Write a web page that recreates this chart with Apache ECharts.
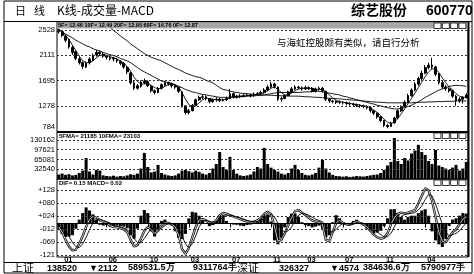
<!DOCTYPE html>
<html><head><meta charset="utf-8">
<script src="https://cdn.jsdelivr.net/npm/echarts@6/dist/echarts.min.js"></script>
<style>html,body{margin:0;padding:0;background:#fff}#c{width:474px;height:274px}</style>
</head><body><div id="c"></div>
<script>
// ---- K-line data (open, close, low, high) ----
const kOpen = [25.3,25.0,24.3,23.7,22.4,21.7,20.5,19.9,19.2,19.9, 20.4,21.2,21.6,21.3,21.0,20.7,20.6,20.4,20.1,19.8, 19.1,18.2,16.6,15.7,16.0,16.6,16.8,16.0,15.3,15.0, 15.7,16.2,16.6,16.4,16.1,15.9,15.1,12.8,11.7,12.0, 12.9,13.8,14.2,14.3,14.0,13.5,13.8,13.9,13.7,13.8, 14.0,14.8,14.2,14.3,14.4,14.5,14.6,14.5,14.7,14.8, 15.0,15.4,15.9,16.4,15.9,13.9,14.0,14.5,15.1,15.6, 15.9,15.8,15.6,15.8,15.7,15.2,15.6,15.7,15.2,13.9, 13.6,13.5,13.4,13.4,13.3,13.2,13.1,13.0,12.9,12.8, 12.7,12.5,12.0,11.6,11.0,10.4,9.6,9.4,10.0,10.8, 12.0,12.7,13.4,14.5,15.4,16.4,17.3,18.2,19.1,19.5, 19.2,18.0,16.6,15.9,15.6,15.3,14.4,13.7,13.9,14.2];
const kClose = [25.0,24.4,23.6,22.5,21.6,20.6,19.9,19.3,19.8,20.5, 21.1,21.6,21.4,21.0,20.8,20.6,20.5,20.2,19.8,19.2, 18.4,16.6,15.7,16.1,16.7,16.9,16.1,15.3,15.0,15.7, 16.3,16.6,16.4,16.1,15.9,15.2,12.8,11.7,12.0,12.9, 13.8,14.2,14.3,14.0,13.5,13.8,13.9,13.7,13.8,14.0, 14.8,14.2,14.3,14.4,14.5,14.6,14.5,14.7,14.8,15.0, 15.4,15.9,16.4,16.0,13.9,14.0,14.5,15.1,15.6,15.9, 15.8,15.6,15.8,15.7,15.2,15.6,15.7,15.3,13.9,13.6, 13.5,13.4,13.4,13.3,13.2,13.1,13.0,12.9,12.8,12.7, 12.5,12.0,11.6,11.0,10.4,9.6,9.4,10.0,10.8,12.0, 12.7,13.4,14.5,15.4,16.4,17.3,18.2,19.1,19.5,19.2, 18.0,16.6,15.9,15.6,15.3,14.4,13.7,13.9,14.2,14.6];
const kLow = [24.7,24.1,23.3,22.2,21.2,20.3,19.6,18.9,19.0,19.6, 20.2,20.9,21.0,20.7,20.4,20.3,20.1,19.9,19.5,18.9, 18.0,16.3,15.4,15.5,15.8,16.4,15.9,15.0,14.7,14.9, 15.5,16.0,16.1,15.8,15.6,14.9,12.5,11.4,11.4,11.9, 12.8,13.6,13.9,13.7,13.2,13.3,13.5,13.4,13.5,13.6, 13.9,14.0,14.0,14.1,14.2,14.3,14.2,14.3,14.5,14.6, 14.8,15.2,15.7,15.7,13.6,13.5,13.9,14.4,15.0,15.4, 15.5,15.3,15.4,15.4,15.0,15.0,15.3,15.0,13.6,13.3, 13.2,13.1,13.1,13.0,12.9,12.8,12.7,12.6,12.5,12.4, 12.2,11.7,11.3,10.7,10.1,9.3,9.1,9.3,9.9,10.7, 11.8,12.5,13.3,14.3,15.2,16.1,17.0,18.0,18.8,18.9, 17.7,16.3,15.6,15.3,15.0,14.1,12.8,13.3,13.2,14.0];
const kHigh = [25.5,25.1,24.5,23.9,22.7,21.9,20.9,20.1,20.1,20.8, 21.4,22.0,21.9,21.6,21.2,21.0,20.9,20.7,20.3,20.0, 19.3,18.4,16.9,16.4,17.0,17.3,17.0,16.2,15.5,15.9, 16.5,16.9,16.8,16.6,16.3,16.0,15.2,12.9,12.3,13.1, 14.0,14.5,14.6,14.5,14.1,14.0,14.2,14.1,14.0,14.3, 15.6,15.0,14.6,14.7,14.8,14.9,14.8,15.0,15.1,15.3, 15.7,16.2,16.8,16.6,16.0,14.3,14.7,15.3,15.9,16.2, 16.1,16.0,16.1,16.0,15.9,15.8,16.0,15.9,15.3,14.1, 13.8,13.7,13.7,13.6,13.5,13.4,13.3,13.2,13.1,13.0, 12.9,12.6,12.1,11.7,11.1,10.5,9.8,10.2,11.0,12.2, 12.9,13.7,14.8,15.7,16.7,17.6,18.6,19.5,19.9,20.7, 19.4,18.2,16.9,16.2,15.8,15.5,14.6,14.2,14.4,14.9];
// ---- moving averages ----
const maShort = [25.4,25.0,24.4,23.7,22.8,21.9,21.0,20.2,19.9,19.9, 20.2,20.7,21.1,21.2,21.1,20.9,20.7,20.5,20.2,19.8, 19.3,18.5,17.5,16.8,16.4,16.4,16.5,16.2,15.8,15.6, 15.7,16.0,16.3,16.4,16.2,15.9,15.0,13.9,13.0,12.6, 12.8,13.3,13.8,14.1,14.0,13.9,13.8,13.8,13.8,13.9, 14.1,14.3,14.4,14.4,14.4,14.5,14.5,14.6,14.7,14.8, 15.0,15.3,15.7,15.9,15.5,15.0,14.6,14.6,14.9,15.3, 15.6,15.7,15.7,15.7,15.6,15.5,15.5,15.5,15.1,14.6, 14.1,13.7,13.5,13.4,13.3,13.2,13.1,13.0,12.9,12.8, 12.7,12.5,12.1,11.7,11.2,10.6,10.1,9.9,10.1,10.7, 11.5,12.3,13.2,14.0,14.9,15.8,16.7,17.6,18.4,18.9, 18.9,18.3,17.4,16.6,15.9,15.4,14.8,14.4,14.2,14.2];
const maLong = [32.1,31.7,31.2,30.8,30.4,30.0,29.5,29.1,28.7,28.2, 27.8,27.4,27.0,26.5,26.1,25.7,25.2,24.8,24.3,23.9, 23.5,23.0,22.6,22.2,21.8,21.4,21.1,20.8,20.6,20.4, 20.2,19.9,19.6,19.3,19.0,18.8,18.5,18.2,18.0,17.8, 17.6,17.5,17.3,17.0,16.8,16.6,16.2,15.8,15.5,15.4, 15.2,15.1,15.0,14.9,14.85,14.8,14.75,14.7,14.65,14.6, 14.6,14.55,14.55,14.5,14.5,14.45,14.45,14.4,14.4,14.4, 14.4,14.35,14.3,14.3,14.25,14.2,14.2,14.15,14.1,14.05, 14.0,14.0,13.95,13.9,13.85,13.8,13.75,13.7,13.65,13.6, 13.55,13.5,13.45,13.4,13.4,13.35,13.3,13.3,13.3,13.3, 13.3,13.3,13.3,13.3,13.35,13.35,13.4,13.4,13.45,13.45, 13.5,13.5,13.5,13.55,13.55,13.55,13.6,13.6,13.6,13.6];
const maMid = [25.3,25.0,24.6,24.3,24.0,23.6,23.3,23.0,22.7,22.5, 22.2,22.0,21.8,21.6,21.4,21.2,21.1,20.9,20.6,20.4, 20.2,19.9,19.5,19.1,18.7,18.4,18.1,17.8,17.5,17.2, 16.9,16.8,16.6,16.5,16.3,16.0,15.8,15.5,15.3,15.1, 15.0,14.8,14.7,14.6,14.5,14.4,14.3,14.2,14.2,14.2, 14.25,14.3,14.3,14.3,14.35,14.4,14.4,14.45,14.5,14.5, 14.6,14.7,14.8,14.9,15.0,15.0,15.0,15.0,15.0,15.0, 15.0,15.05,15.1,15.1,15.15,15.2,15.2,15.1,15.0,14.9, 14.8,14.7,14.6,14.4,14.3,14.1,14.0,13.8,13.7,13.5, 13.4,13.2,13.1,12.9,12.8,12.65,12.5,12.4,12.3,12.3, 12.4,12.5,12.7,12.9,13.2,13.5,13.8,14.2,14.5,14.8, 15.1,15.4,15.6,15.8,16.0,16.1,16.2,16.15,16.1,16.0];
// ---- volume ----
const volume = [15000,18000,14000,16000,12000,14000,20000,28000,70000,25000, 15000,30000,28000,12000,10000,9000,11000,8000,10000,9000, 12000,16000,14000,18000,35000,87000,40000,22000,25000,47000, 20000,15000,12000,10000,12000,18000,28000,30000,26000,22000, 28000,24000,18000,15000,20000,35000,50000,90000,40000,30000, 74000,30000,18000,12000,10000,12000,15000,25000,40000,35000, 104000,50000,38000,30000,25000,18000,15000,20000,35000,47000, 30000,20000,14000,12000,15000,20000,38000,64000,35000,22000, 14000,10000,9000,8000,9000,7000,8000,10000,9000,8000, 10000,12000,14000,15000,20000,30000,45000,57000,137000,60000, 50000,70000,62000,85000,95000,114000,90000,80000,60000,50000, 97000,45000,40000,35000,30000,38000,47000,28000,35000,57000];
// ---- MACD ----
const macdBar = [-0.20,-0.40,-0.52,-0.50,-0.45,-0.20,0.15,0.40,0.62,0.50, 0.35,0.15,-0.05,-0.08,-0.06,-0.12,-0.12,-0.08,-0.10,-0.12, -0.18,-0.45,-0.58,-0.20,0.30,0.52,0.40,-0.30,-0.50,-0.25, 0.10,0.15,0.05,-0.08,-0.30,-0.55,-0.60,-0.40,0.20,0.45, 0.42,0.30,0.12,0.02,-0.10,-0.06,0.12,0.30,0.32,0.10, 0.02,-0.04,-0.05,-0.08,-0.10,-0.06,-0.04,0.03,0.08,0.20, 0.32,0.35,0.08,-0.65,-0.80,-0.55,-0.15,0.25,0.38,0.38, 0.25,0.05,-0.06,-0.10,-0.15,-0.12,-0.08,-0.20,-0.53,-0.45, 0.05,0.32,0.20,0.05,-0.05,-0.04,0.10,0.15,0.00,-0.08, -0.20,-0.30,-0.38,-0.35,-0.28,-0.10,0.20,0.55,0.55,0.40, 0.25,0.15,0.25,0.30,0.30,0.40,0.50,0.55,0.30,-0.30, -0.65,-0.80,-0.90,-0.60,-0.10,0.15,0.20,0.30,0.40,0.38];
const dif = [-0.13,-0.33,-0.63,-0.88,-1.03,-1.01,-0.78,-0.48,-0.13,0.17, 0.27,0.22,0.12,0.07,0.02,-0.08,-0.13,-0.15,-0.18,-0.23, -0.33,-0.63,-0.88,-0.83,-0.58,-0.28,-0.13,-0.23,-0.38,-0.28, -0.08,0.02,0.02,-0.03,-0.13,-0.43,-0.98,-1.17,-0.93,-0.53, -0.13,0.12,0.17,0.12,0.02,0.02,0.12,0.32,0.41,0.37, 0.32,0.27,0.22,0.17,0.12,0.07,0.05,0.07,0.12,0.22, 0.37,0.45,0.37,-0.13,-0.68,-0.63,-0.38,-0.08,0.22,0.47, 0.52,0.42,0.32,0.22,0.12,0.07,0.05,-0.03,-0.63,-0.68, -0.33,0.02,0.12,0.02,-0.03,-0.05,0.02,0.07,0.02,-0.03, -0.13,-0.28,-0.43,-0.53,-0.58,-0.55,-0.38,-0.03,0.22,0.37, 0.42,0.39,0.42,0.47,0.52,0.77,1.07,1.36,1.27,0.87, 0.27,-0.33,-0.68,-0.73,-0.53,-0.33,-0.23,-0.03,0.17,0.25];
const dea = [-0.03,-0.13,-0.28,-0.48,-0.73,-0.88,-0.93,-0.78,-0.53,-0.23, 0.02,0.15,0.17,0.12,0.07,0.02,-0.05,-0.11,-0.13,-0.17, -0.23,-0.38,-0.58,-0.73,-0.73,-0.58,-0.38,-0.18,-0.18,-0.23, -0.18,-0.08,-0.01,-0.01,-0.05,-0.18,-0.48,-0.78,-0.93,-0.78, -0.48,-0.13,0.07,0.12,0.09,0.05,0.05,0.12,0.25,0.32, 0.32,0.29,0.25,0.22,0.17,0.12,0.09,0.07,0.07,0.12, 0.19,0.29,0.35,0.25,0.02,-0.23,-0.33,-0.28,-0.13,0.12, 0.32,0.39,0.37,0.32,0.25,0.17,0.12,0.07,-0.08,-0.28, -0.33,-0.23,-0.08,-0.01,-0.01,-0.03,-0.03,0.02,0.02,0.01, -0.03,-0.11,-0.21,-0.33,-0.43,-0.51,-0.51,-0.38,-0.13,0.12, 0.27,0.35,0.37,0.39,0.42,0.52,0.67,0.92,1.12,1.07, 0.77,0.37,-0.03,-0.33,-0.48,-0.43,-0.38,-0.28,-0.13,0.02];
// ---- tick labels ----
const kTickVal = [25.28, 21.11, 16.95, 12.78, 9.33];
const kTickTxt = ['2528', '2111', '1695', '1278', '784'];
const kGridVal = [25.28, 21.11, 16.95, 12.78];
const volTickVal = [130162, 97621, 65081, 32540];
const volTickTxt = ['130162', '97621', '65081', '32540'];
const macdTickVal = [1.28, 0.78, 0.28, -0.21, -0.71, -1.21];
const macdTickTxt = ['+128', '+080', '+024', '-012', '-069', '-121'];
const monthIdx = [1, 14, 26, 38, 50, 62, 72, 83, 95, 107];
const monthTxt = ['01', '06', '10', '03', '07', '11', '03', '07', '11', '04'];

const cats = kClose.map((_, i) => 'd' + i);
const F = '"Liberation Sans", Arial, sans-serif';
const CJK = '"Noto Sans CJK SC", sans-serif';
function pick(vals, txts, v) { let b = 0; for (let i = 1; i < vals.length; i++) if (Math.abs(vals[i] - v) < Math.abs(vals[b] - v)) b = i; return txts[b]; }
const dash = { color: '#333', type: [2, 2], width: 1 };
function gridLines(vals) {
  return { silent: true, symbol: 'none', label: { show: false }, lineStyle: dash, animation: false,
    data: vals.map(v => ({ yAxis: v })) };
}
const chart = echarts.init(document.getElementById('c'));
const showMonth = (i) => monthIdx.indexOf(i) >= 0;
const thin = { color: '#000', width: 0.9 };
chart.setOption({
  animation: false,
  backgroundColor: '#fff',
  grid: [
    { left: 57, top: 22, width: 411, height: 110, show: true, borderColor: '#000', borderWidth: 1 },
    { left: 57, top: 132, width: 411, height: 47, show: true, borderColor: '#000', borderWidth: 1 },
    { left: 57, top: 179, width: 411, height: 78, show: true, borderColor: '#000', borderWidth: 1 }
  ],
  xAxis: [0, 1, 2].map(g => ({
    type: 'category', gridIndex: g, data: cats, boundaryGap: true,
    axisLine: { show: false }, splitLine: { show: false },
    axisTick: { show: g === 2, interval: showMonth, alignWithLabel: true, length: 4, lineStyle: { color: '#000' } },
    axisLabel: { show: g === 2, interval: showMonth, formatter: (v, i) => monthTxt[monthIdx.indexOf(i)] || '',
      align: 'left', margin: -1, padding: [0, 0, 0, 2], fontSize: 7.5, fontFamily: F, color: '#000', fontWeight: 'bold' }
  })),
  yAxis: [
    { gridIndex: 0, min: 8.50, max: 26.60, axisLine: { show: false }, axisTick: { show: false }, splitLine: { show: false },
      axisLabel: { customValues: kTickVal, formatter: v => pick(kTickVal, kTickTxt, v), fontSize: 7.5, fontFamily: F, color: '#000', margin: 2 } },
    { gridIndex: 1, min: 0, max: 156860, axisLine: { show: false }, axisTick: { show: false }, splitLine: { show: false },
      axisLabel: { customValues: volTickVal, formatter: v => pick(volTickVal, volTickTxt, v), fontSize: 7.5, fontFamily: F, color: '#000', margin: 2 } },
    { gridIndex: 2, min: -1.288, max: 1.712, axisLine: { show: false }, axisTick: { show: false }, splitLine: { show: false },
      axisLabel: { customValues: macdTickVal, formatter: v => pick(macdTickVal, macdTickTxt, v), fontSize: 7.5, fontFamily: F, color: '#000', margin: 2 } }
  ],
  series: [
    { type: 'candlestick', xAxisIndex: 0, yAxisIndex: 0, barWidth: '65%',
      data: kOpen.map((o, i) => [o, kClose[i], kLow[i], kHigh[i]]),
      itemStyle: { color: '#000', color0: '#000', borderColor: '#000', borderColor0: '#000', borderWidth: 1 },
      markLine: gridLines(kGridVal) },
    { type: 'line', xAxisIndex: 0, yAxisIndex: 0, data: maShort, symbol: 'none', lineStyle: thin },
    { type: 'line', xAxisIndex: 0, yAxisIndex: 0, data: maLong, symbol: 'none', lineStyle: thin },
    { type: 'line', xAxisIndex: 0, yAxisIndex: 0, data: maMid, symbol: 'none', lineStyle: thin },
    { type: 'bar', xAxisIndex: 1, yAxisIndex: 1, data: volume, barWidth: '88%', itemStyle: { color: '#000' },
      markLine: gridLines(volTickVal) },
    { type: 'bar', xAxisIndex: 2, yAxisIndex: 2, data: macdBar, barWidth: '90%', itemStyle: { color: '#000' },
      markLine: { silent: true, symbol: 'none', label: { show: false },
        data: macdTickVal.map(v => ({ yAxis: v, lineStyle: dash })).concat([{ yAxis: 0, lineStyle: { color: '#000', type: 'solid', width: 1 } }]) } },
    { type: 'line', xAxisIndex: 2, yAxisIndex: 2, data: dif, symbol: 'none', lineStyle: { color: '#000', width: 2.3 } },
    { type: 'line', xAxisIndex: 2, yAxisIndex: 2, data: dif, symbol: 'none', lineStyle: { color: '#fff', width: 0.8 } },
    { type: 'line', xAxisIndex: 2, yAxisIndex: 2, data: dea, symbol: 'none', lineStyle: thin }
  ],
  graphic: [
    { type: 'rect', z: 100, shape: { x: 4, y: 1, width: 468, height: 272 }, style: { fill: 'none', stroke: '#000', lineWidth: 1 } },
    { type: 'line', z: 100, shape: { x1: 4, y1: 21.5, x2: 472, y2: 21.5 }, style: { stroke: '#000', lineWidth: 1 } },
    { type: 'line', z: 100, shape: { x1: 57, y1: 132, x2: 468, y2: 132 }, style: { stroke: '#000', lineWidth: 2 } },
    { type: 'line', z: 100, shape: { x1: 468.5, y1: 22, x2: 468.5, y2: 257 }, style: { stroke: '#000', lineWidth: 2 } },
    { type: 'line', z: 100, shape: { x1: 4, y1: 262.5, x2: 472, y2: 262.5 }, style: { stroke: '#000', lineWidth: 1 } },
    // title
    { type: 'text', z: 100, left: 15, top: 5, style: { text: '日', font: '11px ' + CJK, fill: '#000' } },
    { type: 'text', z: 100, left: 34, top: 5, style: { text: '线', font: '11px ' + CJK, fill: '#000' } },
    { type: 'text', z: 100, left: 57, top: 4, style: { text: 'K线-成交量-MACD', font: '12px ' + CJK, fill: '#000' } },
    { type: 'text', z: 100, left: 351, top: 3, style: { text: '综艺股份', font: 'bold 14px ' + CJK, fill: '#000' } },
    { type: 'text', z: 100, left: 426, top: 4, style: { text: '600770', font: 'bold 14px ' + F, fill: '#000' } },
    // header strips
    { type: 'rect', z: 100, shape: { x: 57.5, y: 22.5, width: 410, height: 6 }, style: { fill: '#a8a8a8' } },
    { type: 'text', z: 101, left: 58, top: 22.5, style: { text: '5F= 12.46 10F= 12.49 20F= 12.95 60F= 14.76 0F= 12.87', font: 'bold 5.5px ' + F, fill: '#000' } },
    { type: 'text', z: 101, left: 59, top: 133.5, style: { text: '5FMA= 21185 10FMA= 23103', font: 'bold 6px ' + F, fill: '#000' } },
    { type: 'text', z: 101, left: 59, top: 180.5, style: { text: 'DIF= 0.15 MACD= 0.02', font: 'bold 6px ' + F, fill: '#000' } },
    // buttons
    ...[0, 1, 2, 3].map(k => ({ type: 'rect', z: 102, shape: { x: 434 + k * 8.3, y: 23, width: 7, height: 5.5 }, style: { fill: '#fff', stroke: '#000', lineWidth: 0.8 } })),
    ...[0, 1, 2, 3].map(k => ({ type: 'rect', z: 102, shape: { x: 434 + k * 8.3, y: 133, width: 7, height: 5.5 }, style: { fill: '#fff', stroke: '#000', lineWidth: 0.8 } })),
    ...[0, 1, 2, 3].map(k => ({ type: 'rect', z: 102, shape: { x: 434 + k * 8.3, y: 180, width: 7, height: 5.5 }, style: { fill: '#fff', stroke: '#000', lineWidth: 0.8 } })),
    // annotation
    { type: 'text', z: 100, left: 277, top: 38, style: { text: '与海虹控股颇有类似，请自行分析', font: '9.5px ' + CJK, fill: '#000' } },
    // status bar
    { type: 'text', z: 100, left: 12, top: 262, style: { text: '上证', font: '11px ' + CJK, fill: '#000' } },
    { type: 'text', z: 100, left: 47, top: 264, style: { text: '138520', font: 'bold 9px ' + F, fill: '#000' } },
    { type: 'text', z: 100, left: 89, top: 264, style: { text: '▼2112', font: 'bold 9px ' + F, fill: '#000' } },
    { type: 'text', z: 100, left: 128, top: 263, style: { text: '589531.5万', font: 'bold 9px ' + F, fill: '#000' } },
    { type: 'text', z: 100, left: 193, top: 263, style: { text: '9311764手', font: 'bold 9px ' + F, fill: '#000' } },
    { type: 'text', z: 100, left: 237, top: 262, style: { text: '深证', font: '11px ' + CJK, fill: '#000' } },
    { type: 'text', z: 100, left: 279, top: 264, style: { text: '326327', font: 'bold 9px ' + F, fill: '#000' } },
    { type: 'text', z: 100, left: 330, top: 264, style: { text: '▼4574', font: 'bold 9px ' + F, fill: '#000' } },
    { type: 'text', z: 100, left: 363, top: 263, style: { text: '384636.6万', font: 'bold 9px ' + F, fill: '#000' } },
    { type: 'text', z: 100, left: 421, top: 263, style: { text: '5790977手', font: 'bold 9px ' + F, fill: '#000' } }
  ]
});
</script>
</body></html>
